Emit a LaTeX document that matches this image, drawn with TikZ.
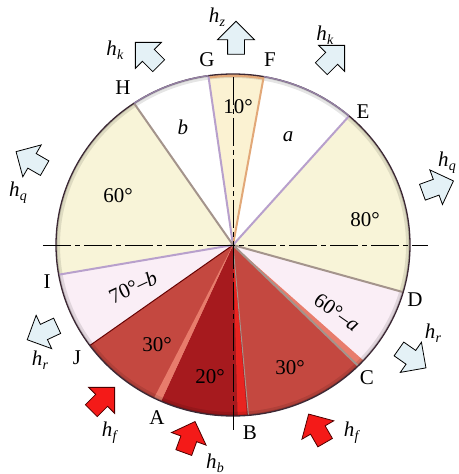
\documentclass[tikz,border=0pt]{standalone}
\usepackage{fontspec}
\setmainfont{Liberation Serif}
\usetikzlibrary{shapes.arrows,positioning}

\definecolor{creamfill}{RGB}{248,244,216}
\definecolor{tenfill}{RGB}{251,242,210}
\definecolor{pinkfill}{RGB}{250,238,246}
\definecolor{redthirty}{RGB}{196,72,64}
\definecolor{redtwenty}{RGB}{166,26,30}
\definecolor{redridge}{RGB}{232,124,108}
\definecolor{redbright}{RGB}{232,36,32}
\definecolor{rimcol}{RGB}{60,40,52}
\definecolor{lavedge}{RGB}{184,160,204}
\definecolor{greyedge}{RGB}{164,148,140}
\definecolor{orangeedge}{RGB}{226,168,120}
\definecolor{arrowblue}{RGB}{228,241,246}
\definecolor{arrowred}{RGB}{244,26,24}

% ellipse radii of the disc
\def\rx{177pt}
\def\ry{171pt}
\def\rxy{177pt and 171pt}

\newcommand{\wedgefill}[3]{%
  \fill[#3] (0,0) -- (#1:\rxy)
    arc[start angle=#1, end angle=#2, x radius=\rx, y radius=\ry] -- cycle;}
\newcommand{\hsub}[1]{\textit{h}\kern0.3pt\raisebox{-0.45ex}{\fontsize{14pt}{14pt}\selectfont\textit{#1}}}

\begin{document}
\begin{tikzpicture}[
  x=1pt, y=1pt,
  font=\fontsize{21pt}{21pt}\selectfont,
  ptlabel/.style={inner sep=0pt},
  seclabel/.style={inner sep=0pt},
  hlabel/.style={inner sep=0pt},
  bluearrow/.style={
    single arrow, draw=black, fill=arrowblue, line width=0.8pt,
    minimum height=33pt, minimum width=36pt,
    inner xsep=0pt, inner ysep=8pt,
    single arrow head extend=10pt
  },
  redarrow/.style={bluearrow, fill=arrowred, draw=black!70!red},
  edgeline/.style={line width=2pt},
  axisline/.style={line width=0.9pt, dash pattern=on 28pt off 4pt on 5pt off 4pt}
]

\useasboundingbox (-233,-229) rectangle (225,245);

% Sector boundary angles
\def\angG{98}
\def\angF{80}
\def\angE{49}
\def\angD{-16}
\def\angC{-45}
\def\angB{-85}
\def\angA{-114}
\def\angJ{-144}
\def\angI{-170}
\def\angH{124}

\coordinate (O) at (0,0);
\foreach \p in {G,F,E,D,C,B,A,J,I,H}
  \coordinate (\p) at (\csname ang\p\endcsname:\rxy);

% ===== Sectors =====
\wedgefill{\angF}{\angG}{tenfill}
\wedgefill{\angE}{\angF}{white}
\wedgefill{\angD}{\angE}{creamfill}
\wedgefill{\angC}{\angD}{pinkfill}
\wedgefill{\angB}{\angC}{redthirty}
\wedgefill{\angA}{\angB}{redtwenty}
\wedgefill{\angJ}{\angA}{redthirty}
\wedgefill{\angI}{\angJ}{pinkfill}
\wedgefill{\angH}{190}{creamfill}
\wedgefill{\angG}{\angH}{white}

% Ridges on the red sectors
\wedgefill{-45}{-42.5}{redridge}
\wedgefill{-88.5}{-85.5}{redbright}
\wedgefill{-116.5}{-114}{redridge}

% Rim shading
\begin{scope}
  \clip (O) ellipse [x radius=\rx, y radius=\ry];
  \draw[line width=8pt, black, opacity=0.10] (O) ellipse [x radius=\rx, y radius=\ry];
  \draw[line width=3pt, black, opacity=0.15] (O) ellipse [x radius=\rx, y radius=\ry];
  \draw[line width=6pt, orangeedge] (F)
    arc[start angle=\angF, end angle=\angG, x radius=\rx, y radius=\ry];
\end{scope}

% ===== Sector edges =====
\draw[edgeline, lavedge] (O) -- (G);
\draw[edgeline, orangeedge] (O) -- (F);
\draw[edgeline, lavedge] (O) -- (E);
\draw[edgeline, greyedge] (O) -- (D);
\draw[edgeline, greyedge] (O) -- (C);
\draw[edgeline, greyedge, line width=1pt] (O) -- (B);
\draw[edgeline, red!40!black, line width=1pt] (O) -- (J);
\draw[edgeline, lavedge] (O) -- (I);
\draw[edgeline, greyedge] (O) -- (H);

% Rim
\draw[line width=1.3pt, rimcol] (O) ellipse [x radius=\rx, y radius=\ry];
\draw[line width=1.4pt, lavedge!80!black] (G)
  arc[start angle=\angG, end angle=\angH, x radius=\rx, y radius=\ry];
\draw[line width=1.4pt, lavedge!80!black] (E)
  arc[start angle=\angE, end angle=\angF, x radius=\rx, y radius=\ry];

% Centre lines
\coordinate (axL) at (-190,0);
\coordinate (axR) at (195,0);
\coordinate (axT) at (0,168);
\coordinate (axB) at (0,-185);
\draw[axisline] (axL) -- (axR);
\draw[axisline] (axT) -- (axB);

% ===== Point labels =====
\node[ptlabel] (labG) at (-26,185) {G};
\node[ptlabel] (labF) at (37,185) {F};
\node[ptlabel] (labH) at (-110,157) {H};
\node[ptlabel] (labE) at (130,133) {E};
\node[ptlabel] (labI) at (-186,-37) {I};
\node[ptlabel] (labD) at (182,-55) {D};
\node[ptlabel] (labJ) at (-156,-113) {J};
\node[ptlabel] (labC) at (134,-133) {C};
\node[ptlabel] (labA) at (-76,-173) {A};
\node[ptlabel] (labB) at (17,-188) {B};

% ===== Sector labels =====
\node[seclabel] (s10) at (5,138) {10°};
\node[seclabel] (sb) at (-50,118) {\textit{b}};
\node[seclabel] (sa) at (55,108) {\textit{a}};
\node[seclabel] (s60) at (-115,49) {60°};
\node[seclabel] (s80) at (132,25) {80°};
\node[seclabel, rotate=25] (s70b) at (-100,-42) {70°–\textit{b}};
\node[seclabel, rotate=-35] (s60a) at (104,-67) {60°–\textit{a}};
\node[seclabel] (s30l) at (-76,-100) {30°};
\node[seclabel] (s20) at (-23,-132) {20°};
\node[seclabel] (s30r) at (57,-123) {30°};

% ===== Outward arrows =====
\node[bluearrow, rotate=90] (hz) at (3,203) {};
\node[bluearrow, rotate=135] (hkl) at (-83,188) {};
\node[bluearrow, rotate=45] (hkr) at (97,185) {};
\node[bluearrow, rotate=150] (hql) at (-199,83) {};
\node[bluearrow, rotate=20] (hqr) at (201,57) {};
\node[bluearrow, rotate=205] (hrl) at (-187,-86) {};
\node[bluearrow, rotate=-35] (hrr) at (176,-111) {};

% ===== Inward arrows =====
\node[redarrow, rotate=45] (hfl) at (-133,-157) {};
\node[redarrow, rotate=70] (hb) at (-45,-196) {};
\node[redarrow, rotate=120] (hfr) at (86,-187) {};

% Arrow labels
\node[hlabel] (lhz) at (-16,228) {\hsub{z}};
\node[hlabel] (lhkl) at (-118,195) {\hsub{k}};
\node[hlabel] (lhkr) at (92,210) {\hsub{k}};
\node[hlabel] (lhql) at (-215,52) {\hsub{q}};
\node[hlabel] (lhqr) at (214,82) {\hsub{q}};
\node[hlabel] (lhrl) at (-193,-115) {\hsub{r}};
\node[hlabel] (lhrr) at (200,-88) {\hsub{r}};
\node[hlabel] (lhfl) at (-123,-188) {\hsub{f}};
\node[hlabel] (lhb) at (-18,-218) {\hsub{b}};
\node[hlabel] (lhfr) at (119,-188) {\hsub{f}};

\end{tikzpicture}
\end{document}
